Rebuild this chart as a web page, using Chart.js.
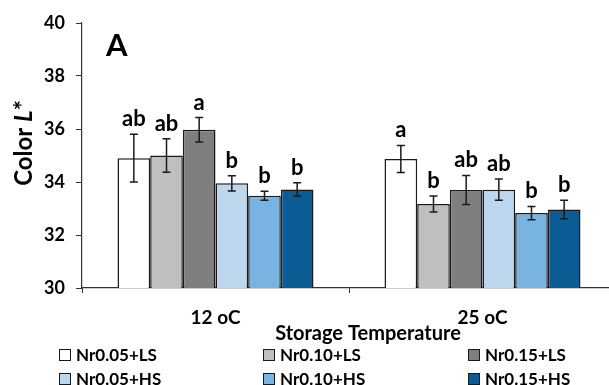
<!DOCTYPE html>
<html>
<head>
<meta charset="utf-8">
<script src="https://cdn.jsdelivr.net/npm/chart.js@4"></script>
<style>
  html, body { margin: 0; padding: 0; background: #fff; overflow: hidden; }
  #wrap { width: 620px; height: 385px; }
</style>
</head>
<body>
<div id="wrap"><canvas id="myChart"></canvas></div>
<script>
const categories = ['12 oC', '25 oC'];
const seriesNames = ['Nr0.05+LS', 'Nr0.10+LS', 'Nr0.15+LS', 'Nr0.05+HS', 'Nr0.10+HS', 'Nr0.15+HS'];
const colors = ['#ffffff', '#bfbfbf', '#7f7f7f', '#bdd7ee', '#78b3e2', '#0b5c94'];
// mean L* per series: [12 oC, 25 oC]
const means = [
  [34.9, 34.87],
  [35.0, 33.17],
  [35.97, 33.7],
  [33.95, 33.71],
  [33.48, 32.83],
  [33.72, 32.96]
];
const errors = [
  [0.9, 0.51],
  [0.63, 0.3],
  [0.46, 0.55],
  [0.29, 0.4],
  [0.17, 0.25],
  [0.25, 0.35]
];
const letters = [
  ['ab', 'a'],
  ['ab', 'b'],
  ['a', 'ab'],
  ['b', 'ab'],
  ['b', 'b'],
  ['b', 'b']
];
const yTicks = [30, 32, 34, 36, 38, 40];

const FONT = 'Lato';
const INK = '#1a1a1a';

const extras = {
  id: 'extras',
  afterDatasetsDraw(chart) {
    const ctx = chart.ctx;
    const y = chart.scales.y;
    ctx.save();
    chart.data.datasets.forEach((ds, i) => {
      const meta = chart.getDatasetMeta(i);
      meta.data.forEach((bar, j) => {
        const hi = y.getPixelForValue(means[i][j] + errors[i][j]);
        const lo = y.getPixelForValue(means[i][j] - errors[i][j]);
        ctx.strokeStyle = INK;
        ctx.lineWidth = 1.5;
        ctx.beginPath();
        ctx.moveTo(bar.x, hi); ctx.lineTo(bar.x, lo);
        ctx.moveTo(bar.x - 4, hi); ctx.lineTo(bar.x + 4, hi);
        ctx.moveTo(bar.x - 4, lo); ctx.lineTo(bar.x + 4, lo);
        ctx.stroke();
        ctx.fillStyle = '#000';
        ctx.font = 'bold 22px ' + FONT;
        ctx.textAlign = 'center';
        ctx.textBaseline = 'alphabetic';
        ctx.fillText(letters[i][j], bar.x, hi - 8);
      });
    });
    ctx.restore();
  },
  afterDraw(chart) {
    const ctx = chart.ctx;
    ctx.save();
    ctx.fillStyle = '#000';

    // y axis title with italic L
    ctx.translate(24, 143);
    ctx.rotate(-Math.PI / 2);
    ctx.textBaseline = 'middle';
    ctx.textAlign = 'left';
    const parts = [['bold 24px ' + FONT, 'Color '], ['italic bold 24px ' + FONT, 'L'], ['bold 24px ' + FONT, '*']];
    let total = 0;
    parts.forEach(p => { ctx.font = p[0]; total += ctx.measureText(p[1]).width; });
    let px = -total / 2;
    parts.forEach(p => { ctx.font = p[0]; ctx.fillText(p[1], px, 0); px += ctx.measureText(p[1]).width; });
    ctx.setTransform(1, 0, 0, 1, 0, 0);

    // panel letter
    ctx.font = 'bold 31px ' + FONT;
    ctx.textAlign = 'left';
    ctx.textBaseline = 'alphabetic';
    ctx.fillText('A', 106, 56);

    // x axis title
    ctx.font = 'bold 20px ' + FONT;
    ctx.textAlign = 'center';
    ctx.textBaseline = 'middle';
    ctx.fillText('Storage Temperature', 368, 334);

    // legend, 3 columns x 2 rows
    const colX = [59, 263, 468];
    const rowY = [355, 379];
    ctx.font = 'bold 17px ' + FONT;
    ctx.textAlign = 'left';
    chart.data.datasets.forEach((ds, i) => {
      const x = colX[i % 3], yy = rowY[Math.floor(i / 3)];
      ctx.fillStyle = ds.backgroundColor;
      ctx.fillRect(x, yy - 6, 12, 12);
      ctx.strokeStyle = INK;
      ctx.lineWidth = 1;
      ctx.strokeRect(x + 0.5, yy - 5.5, 11, 11);
      ctx.fillStyle = '#000';
      ctx.fillText(ds.label, x + 17, yy + 1);
    });
    ctx.restore();
  }
};

const ctx = document.getElementById('myChart').getContext('2d');
const myChart = new Chart(ctx, {
  type: 'bar',
  data: {
    labels: categories,
    datasets: seriesNames.map((name, i) => ({
      label: name,
      data: means[i].slice(),
      backgroundColor: colors[i],
      borderColor: INK,
      borderWidth: 1.5,
      borderSkipped: false,
      barPercentage: 1,
      categoryPercentage: 0.734
    }))
  },
  options: {
    responsive: true,
    maintainAspectRatio: false,
    animation: false,
    layout: { padding: { top: 23, right: 4, left: 0, bottom: 0 } },
    plugins: { legend: { display: false }, tooltip: { enabled: false } },
    scales: {
      x: {
        afterFit(scale) { scale.height = 97; },
        grid: { display: true, drawOnChartArea: false, drawTicks: true, tickLength: 5, color: '#333', offset: true },
        border: { color: '#333', width: 1.2 },
        ticks: { color: '#000', font: { family: FONT, size: 19, weight: 'bold' }, padding: 13 }
      },
      y: {
        min: 30,
        max: 40,
        afterFit(scale) { scale.width = 82; },
        afterBuildTicks(scale) { scale.ticks = yTicks.map(v => ({ value: v })); },
        grid: { display: true, drawOnChartArea: false, drawTicks: true, tickLength: 6, color: '#333' },
        border: { color: '#333', width: 1.2 },
        ticks: { color: '#000', font: { family: FONT, size: 18, weight: 'bold' }, padding: 11 }
      }
    }
  },
  plugins: [extras]
});
</script>
</body>
</html>
